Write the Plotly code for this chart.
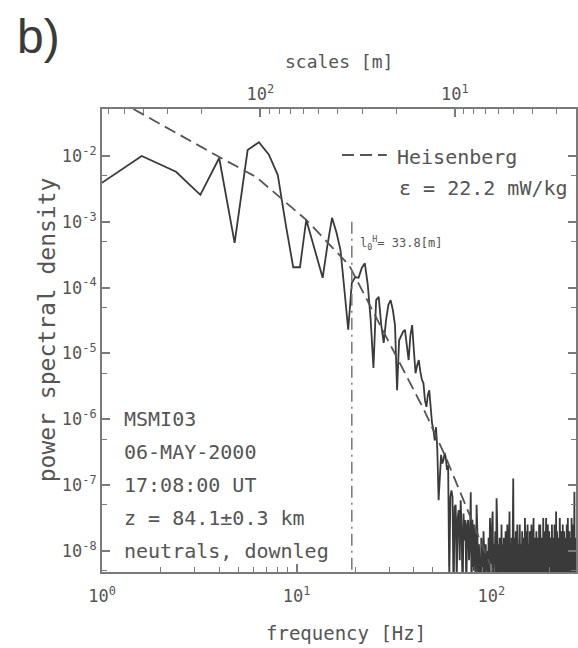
import numpy as np
import plotly.graph_objects as go

# ---------------- data ----------------
freq_step = 0.8  # Hz, spectral resolution
psd_log10 = [
    -2.60, -2.00, -2.24, -2.59, -2.03, -3.32, -1.91, -1.79, -1.98, -2.29,
    -3.05, -3.69, -3.69, -2.97, -3.28, -3.58, -3.85, -3.35, -2.94, -3.16,
    -3.43, -4.04, -4.64, -3.93, -3.84, -3.85, -3.70, -3.63, -3.96, -4.49,
    -5.22, -4.19, -4.14, -4.57, -4.84, -4.49, -4.26, -4.19, -4.34, -4.57,
    -5.56, -4.80, -4.72, -4.67, -4.64, -4.87, -5.10, -4.72, -4.57, -4.95,
    -5.30, -5.18, -5.10, -5.28, -5.40, -5.45, -5.71, -5.81, -5.63, -5.56,
    -5.86, -6.06, -6.16, -6.32, -6.12, -6.47, -7.23, -6.77, -6.54, -6.67,
    -6.62, -6.51, -6.59, -6.77, -6.70, -8.45,
    -7.18, -7.08, -7.18, -8.75, -7.33, -7.30, -8.45, -7.49, -7.38, -8.14,
    -7.23, -7.68, -8.75, -7.43, -7.84, -7.53, -8.60, -7.61, -7.53, -8.14,
    -7.84, -7.11, -8.75, -7.53,
    -8.3, -7.6, -7.9, -8.8, -7.3, -7.7, -8.5, -7.9, -8.2, -8.9,
    -7.8, -8.0, -8.6, -7.7, -8.1, -8.9, -7.9, -8.3, -8.0, -8.7,
    -7.8, -8.5, -7.5, -8.1, -8.8, -7.6, -7.4, -8.6, -7.9, -8.2,
    -7.7, -8.9, -7.2, -7.6, -8.4, -7.9, -8.7, -7.8, -8.1, -8.8,
    -7.6, -8.3, -7.9, -8.6, -7.8, -8.0, -8.9, -7.7, -8.2, -8.5,
    -7.6, -8.1, -8.8, -7.9, -7.4, -8.6, -8.0, -8.3, -7.8, -8.7,
    -7.5, -6.9, -8.4, -7.8, -8.1, -8.9, -7.7, -8.0, -8.5, -7.6,
    -8.2, -8.8, -7.9, -8.3, -7.6, -8.6, -7.9, -8.1, -8.7, -7.7,
    -8.0, -8.6, -7.8, -8.2, -8.9, -7.5, -8.1, -8.4, -7.7, -8.7,
    -8.0, -7.6, -8.5, -7.9, -8.3, -8.8, -7.7, -8.1, -8.6, -7.9,
    -7.6, -8.4, -8.0, -8.8, -7.9, -7.5, -8.6, -8.1, -7.8, -8.9,
    -7.9, -8.3, -7.7, -8.5, -8.0, -8.7, -7.8, -8.2, -8.6, -7.6,
    -8.1, -8.8, -7.6, -8.0, -8.4, -7.8, -8.7, -7.9, -8.2, -8.5,
    -7.5, -8.1, -8.9, -7.8, -8.3, -7.7, -8.6, -8.0, -7.5, -8.4,
    -7.9, -8.7, -8.1, -7.6, -8.5, -7.9, -8.8, -7.7, -8.2, -8.0,
    -8.6, -7.8, -8.4, -7.9, -8.9, -7.6, -8.2, -8.5, -7.8, -8.1,
    -8.7, -7.8, -8.3, -7.6, -8.0, -8.6, -7.9, -8.4, -7.4, -8.8,
    -8.0, -7.7, -8.5, -8.1, -7.9, -8.7, -7.8, -8.2, -8.6, -8.0,
    -7.5, -8.4, -7.9, -8.8, -7.7, -8.1, -8.5, -7.8, -8.3, -8.9,
    -7.6, -8.0, -8.6, -7.9, -8.2, -7.7, -8.7, -8.0, -8.4, -7.8,
    -8.5, -7.9, -8.1, -8.8, -7.6, -8.3, -7.9, -8.6, -7.5, -8.2,
    -8.7, -7.8, -8.0, -8.4, -7.7, -8.9, -8.1, -7.9, -8.5, -7.8,
    -8.2, -8.7, -7.5, -8.0, -8.6, -7.8, -8.3, -7.9, -8.8, -7.6,
    -8.1, -8.5, -7.7, -7.1, -8.4, -7.9, -8.6, -8.0, -7.8, -8.3,
    -8.7, -7.9, -8.2, -8.5, -7.8,
]

# Heisenberg model fit
heis_freq = [1.0, 2.0, 3.92, 6.2, 8.3, 11.2, 18.6, 25.1, 33.4, 45.0, 58.2, 79.0, 95.5, 112.0]
heis_log10 = [-1.02, -1.52, -2.00, -2.32, -2.64, -2.97, -3.66, -4.40, -5.10, -5.85, -6.57, -7.53, -8.10, -8.60]

l0_freq = 19.2          # Hz, inner scale position
l0_top_log10 = -3.0
rocket_speed = 650.0    # m/s, frequency -> scale conversion

y_major = [1e-2, 1e-3, 1e-4, 1e-5, 1e-6, 1e-7, 1e-8]
y_major_text = ["10<sup>-2</sup>", "10<sup>-3</sup>", "10<sup>-4</sup>", "10<sup>-5</sup>",
                "10<sup>-6</sup>", "10<sup>-7</sup>", "10<sup>-8</sup>"]
x_major = [1, 10, 100]
x_major_text = ["10<sup>0</sup>", "10<sup>1</sup>", "10<sup>2</sup>"]
top_major = [100, 10]
top_major_text = ["10<sup>2</sup>", "10<sup>1</sup>"]

info_lines = ["MSMI03", "06-MAY-2000", "17:08:00 UT", "z = 84.1±0.3 km", "neutrals, downleg"]

# ---------------- figure ----------------
freq = freq_step * np.arange(1, len(psd_log10) + 1)
psd = 10.0 ** np.array(psd_log10)

LINE = "#3a3a3a"
AX = "#7a7a7a"
TXT = "#555555"
FONT = "DejaVu Sans Mono"

fig = go.Figure()
fig.add_trace(go.Scatter(x=freq, y=psd, mode="lines",
                         line=dict(color=LINE, width=1.8), hoverinfo="skip"))
fig.add_trace(go.Scatter(x=heis_freq, y=10.0 ** np.array(heis_log10), mode="lines",
                         line=dict(color="#555555", width=1.8, dash="12px,6px"), hoverinfo="skip"))
fig.add_trace(go.Scatter(x=[l0_freq, l0_freq], y=[10 ** l0_top_log10, 1e-10], mode="lines",
                         line=dict(color="#777777", width=1.5, dash="12px,5px,2px,5px"), hoverinfo="skip"))
# invisible trace so the top (scale) axis is drawn
fig.add_trace(go.Scatter(x=[100], y=[1e-5], xaxis="x2", mode="markers",
                         marker=dict(opacity=0), hoverinfo="skip"))

x_lo, x_hi = 0.0, 2.435
fmax = 10 ** x_hi

x_minor = [m * d for d in (1, 10, 100) for m in range(2, 10) if m * d <= fmax]
top_minor = [600, 500, 400, 300, 200] + [m * 10 for m in range(9, 1, -1)] + [9, 8, 7, 6, 5, 4, 3]
y_minor = [5 * v / 10 for v in [1e-1, 1e-2, 1e-3, 1e-4, 1e-5, 1e-6, 1e-7, 1e-8]]

tickfont = dict(family=FONT, size=17, color=TXT)

fig.update_layout(
    width=578, height=648,
    margin=dict(l=102, r=0, t=109, b=76),
    plot_bgcolor="white", paper_bgcolor="white",
    showlegend=False,
    xaxis=dict(type="log", range=[x_lo, x_hi], showgrid=False, zeroline=False,
               showline=True, linecolor=AX, linewidth=2, mirror=True,
               ticks="inside", ticklen=8, tickwidth=1.5, tickcolor=AX,
               tickmode="array", tickvals=x_major, ticktext=x_major_text,
               tickfont=tickfont, ticklabelstandoff=8,
               minor=dict(tickmode="array", tickvals=x_minor, ticks="inside",
                          ticklen=5, tickwidth=1.2, tickcolor=AX, showgrid=False)),
    xaxis2=dict(type="log", overlaying="x", side="top", anchor="y",
                range=[np.log10(rocket_speed / 10 ** x_lo), np.log10(rocket_speed / fmax)],
                showgrid=False, zeroline=False, showline=True, linecolor=AX, linewidth=2,
                ticks="inside", ticklen=8, tickwidth=1.5, tickcolor=AX,
                tickmode="array", tickvals=top_major, ticktext=top_major_text,
                tickfont=tickfont, ticklabelstandoff=0,
                minor=dict(tickmode="array", tickvals=top_minor, ticks="inside",
                           ticklen=5, tickwidth=1.2, tickcolor=AX, showgrid=False)),
    yaxis=dict(type="log", range=[-8.32, -1.286], showgrid=False, zeroline=False,
               showline=True, linecolor=AX, linewidth=2, mirror="ticks",
               ticks="inside", ticklen=8, tickwidth=1.5, tickcolor=AX,
               tickmode="array", tickvals=y_major, ticktext=y_major_text,
               tickfont=tickfont, ticklabelstandoff=0,
               minor=dict(tickmode="array", tickvals=y_minor, ticks="inside",
                          ticklen=5, tickwidth=1.2, tickcolor=AX, showgrid=False)),
)

W, H, L, B = 476.0, 463.0, 102.0, 572.0


def px(x):
    return (x - L) / W


def py(y):
    return (B - y) / H


ann = []
ann.append(dict(text="b)", x=px(15), y=py(37), xref="paper", yref="paper",
                xanchor="left", yanchor="middle", showarrow=False,
                font=dict(family="Liberation Sans", size=48, color="#3a3a3a")))
ann.append(dict(text="scales [m]", x=px(340), y=py(62), xref="paper", yref="paper",
                xanchor="center", yanchor="middle", showarrow=False,
                font=dict(family=FONT, size=18, color=TXT)))
ann.append(dict(text="frequency [Hz]", x=px(347), y=py(633), xref="paper", yref="paper",
                xanchor="center", yanchor="middle", showarrow=False,
                font=dict(family=FONT, size=19, color=TXT)))
ann.append(dict(text="power spectral density", x=px(47), y=py(330), xref="paper", yref="paper",
                xanchor="center", yanchor="middle", showarrow=False, textangle=-90,
                font=dict(family=FONT, size=23, color=TXT)))
ann.append(dict(text="Heisenberg", x=px(396), y=py(157), xref="paper", yref="paper",
                xanchor="left", yanchor="middle", showarrow=False,
                font=dict(family=FONT, size=20, color=TXT)))
ann.append(dict(text="\u03b5 = 22.2 mW/kg", x=px(398), y=py(188), xref="paper", yref="paper",
                xanchor="left", yanchor="middle", showarrow=False,
                font=dict(family=FONT, size=20, color=TXT)))
ann.append(dict(text="l<sub>0</sub><sup>H</sup>= 33.8[m]", x=px(359), y=py(243), xref="paper", yref="paper",
                xanchor="left", yanchor="middle", showarrow=False,
                font=dict(family=FONT, size=12, color=TXT)))
for i, line in enumerate(info_lines):
    ann.append(dict(text=line, x=px(122), y=py(419 + 33 * i), xref="paper", yref="paper",
                    xanchor="left", yanchor="middle", showarrow=False,
                    font=dict(family=FONT, size=20, color=TXT)))
fig.update_layout(annotations=ann)

fig.add_shape(type="line", xref="paper", yref="paper",
              x0=px(343), x1=px(388), y0=py(155), y1=py(155),
              line=dict(color="#555555", width=1.8, dash="12px,6px"))

fig.write_html("out.html")
